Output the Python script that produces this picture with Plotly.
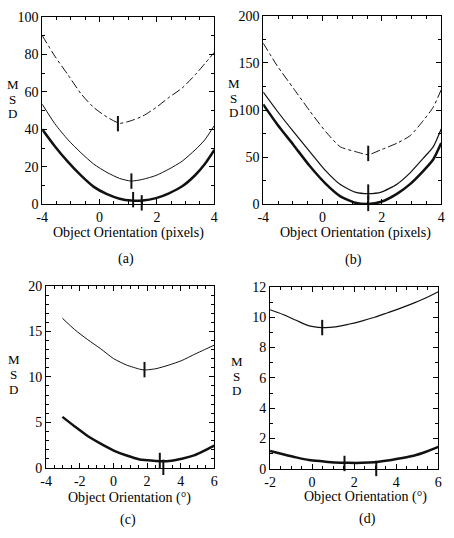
import plotly.graph_objects as go

# ---------------- data ----------------
# Panel (a): x axis labelled -4,0,2,4 at equal spacing (axis units -2..4)
a_x = [-2, -1.56, -1.1, -0.65, -0.2, 0.26, 0.7, 1.1, 1.5, 1.97, 2.42, 2.88, 3.33, 3.67, 4]
a_dashdot = [90, 79, 69, 59, 51.6, 46.5, 43.2, 44.6, 47, 51.6, 57, 62, 69, 75, 81]
a_thin = [53.4, 43, 34.4, 27.5, 21.4, 17, 13.8, 12.4, 13.3, 15.4, 18.8, 23, 29, 34.4, 42]
a_thick = [40, 31, 22.6, 15.4, 9.3, 5.4, 3, 2, 2, 3.3, 5.9, 9.6, 15.5, 21.5, 29]
a_mark_x = [0.64, 1.11, 1.17, 1.47]
a_mark_y = [43, 12.4, 2.5, 0.8]

# Panel (b)
b_x = [-2, -1.53, -0.98, -0.43, 0.11, 0.6, 1.1, 1.54, 1.98, 2.52, 2.96, 3.4, 3.73, 4]
b_dashdot = [171, 147, 123, 99, 77, 61, 56, 52.7, 58, 65, 73, 89, 103, 121.5]
b_thin = [119, 99, 77, 56, 35.5, 21, 13, 11.4, 13, 21.7, 33.7, 49, 61, 80]
b_thick = [106, 85, 63, 40.6, 21.7, 8.5, 1.7, 0.3, 2.8, 11.4, 21.7, 35.5, 47.5, 65]
b_mark_x = [1.54, 1.54, 1.54]
b_mark_y = [54, 13, 1]

# Panel (c)
c_x = [-3.03, -2.3, -1.53, -0.76, 0.02, 0.79, 1.56, 1.85, 2.53, 3.3, 4.07, 4.84, 5.42, 6]
c_thin = [16.45, 15.2, 14.1, 13.1, 12, 11.3, 10.85, 10.76, 10.9, 11.3, 11.8, 12.5, 13, 13.5]
c_thick = [5.6, 4.55, 3.5, 2.66, 1.9, 1.35, 0.92, 0.85, 0.75, 0.75, 1, 1.4, 1.9, 2.45]
c_mark_x = [1.85, 2.76, 2.97]
c_mark_y = [10.8, 0.8, 0.05]

# Panel (d)
d_x = [-2, -1.38, -0.76, -0.14, 0.48, 1.1, 1.73, 2.35, 2.97, 3.59, 4.21, 4.83, 5.45, 6]
d_thin = [10.5, 10.18, 9.8, 9.43, 9.32, 9.36, 9.54, 9.75, 10, 10.3, 10.6, 10.93, 11.3, 11.68]
d_thick = [1.18, 0.96, 0.75, 0.58, 0.49, 0.41, 0.39, 0.39, 0.43, 0.54, 0.69, 0.86, 1.14, 1.44]
d_mark_x = [0.48, 1.54, 3.05]
d_mark_y = [9.32, 0.35, 0.02]

ab_tickvals = [-2, 0, 2, 4]
ab_ticktext = ["-4", "0", "2", "4"]
c_tickvals = [-4, -2, 0, 2, 4, 6]
c_ticktext = ["-4", "-2", "0", "2", "4", "6"]
d_tickvals = [-2, 0, 2, 4, 6]
d_ticktext = ["-2", "0", "2", "4", "6"]
xtitle_pix = "Object Orientation (pixels)"
xtitle_deg = "Object Orientation (°)"

FONT = "Liberation Serif"
W, H = 454, 538
INK = "#111"

fig = go.Figure()

def add_line(x, y, axn, width, dash="solid"):
    fig.add_trace(go.Scatter(x=x, y=y, mode="lines",
                             line=dict(color=INK, width=width, dash=dash, shape="spline", smoothing=0.6),
                             xaxis="x" + axn, yaxis="y" + axn, showlegend=False, hoverinfo="skip"))

def add_marks(x, y, axn):
    fig.add_trace(go.Scatter(x=x, y=y, mode="markers",
                             marker=dict(symbol="line-ns-open", size=11, color=INK,
                                         line=dict(color=INK, width=2)),
                             xaxis="x" + axn, yaxis="y" + axn, showlegend=False, cliponaxis=False,
                             hoverinfo="skip"))

add_line(a_x, a_dashdot, "1", 1, "dashdot")
add_line(a_x, a_thin, "1", 1)
add_line(a_x, a_thick, "1", 2.5)
add_marks(a_mark_x, a_mark_y, "1")

add_line(b_x, b_dashdot, "2", 1, "dashdot")
add_line(b_x, b_thin, "2", 1.2)
add_line(b_x, b_thick, "2", 2.5)
add_marks(b_mark_x, b_mark_y, "2")

add_line(c_x, c_thin, "3", 1)
add_line(c_x, c_thick, "3", 2.5)
add_marks(c_mark_x, c_mark_y, "3")

add_line(d_x, d_thin, "4", 1.2)
add_line(d_x, d_thick, "4", 2.5)
add_marks(d_mark_x, d_mark_y, "4")

def px(v):
    return v / W

def py(v):
    return 1 - v / H

axis_common = dict(showline=True, linecolor="black", linewidth=1, mirror="ticks", ticks="inside",
                   ticklen=5, tickcolor="black", showgrid=False, zeroline=False,
                   tickfont=dict(family=FONT, size=14, color="black"))

def xax(dom, anchor, rng, tickvals, ticktext, minor_dtick=0.5):
    return dict(axis_common, domain=dom, anchor=anchor, range=rng,
                tickmode="array", tickvals=tickvals, ticktext=ticktext,
                minor=dict(ticks="inside", ticklen=3, dtick=minor_dtick, tick0=0, tickcolor="black"))

def yax(dom, anchor, rng, dtick, minor_dtick):
    return dict(axis_common, domain=dom, anchor=anchor, range=rng, dtick=dtick, tick0=0,
                minor=dict(ticks="inside", ticklen=3, dtick=minor_dtick, tick0=0, tickcolor="black"))

fig.update_layout(
    width=W, height=H, margin=dict(l=0, r=0, t=0, b=0),
    paper_bgcolor="white", plot_bgcolor="white",
    font=dict(family=FONT, color="black"),
    xaxis1=xax([px(37), px(213)], "y1", [-2, 4], ab_tickvals, ab_ticktext),
    yaxis1=yax([py(203), py(10)], "x1", [0, 100], 20, 10),
    xaxis2=xax([px(263), px(445)], "y2", [-2, 4], ab_tickvals, ab_ticktext),
    yaxis2=yax([py(203), py(9)], "x2", [0, 200], 50, 25),
    xaxis3=xax([px(41), px(213)], "y3", [-4, 6], c_tickvals, c_ticktext),
    yaxis3=yax([py(474), py(287)], "x3", [0, 20], 5, 1),
    xaxis4=xax([px(270), px(442)], "y4", [-2, 6], d_tickvals, d_ticktext),
    yaxis4=yax([py(475), py(288)], "x4", [0, 12], 2, 1),
)

annotations = []
def ann(text, x, y, size=14):
    annotations.append(dict(text=text, x=px(x), y=py(y), xref="paper", yref="paper",
                            xanchor="center", yanchor="middle", showarrow=False,
                            font=dict(family=FONT, size=size, color="black")))

for (mx, ys) in [(7, (80, 95, 110)), (233, (79, 94, 109)), (8, (363, 378, 393)), (236, (365, 380, 395))]:
    for letter, yy in zip("MSD", ys):
        ann(letter, mx, yy, 13)

ann(xtitle_pix, 125, 232)
ann(xtitle_pix, 357, 232)
ann(xtitle_deg, 126, 505)
ann(xtitle_deg, 368, 504)
ann("(a)", 123, 259)
ann("(b)", 355, 260)
ann("(c)", 125, 528)
ann("(d)", 370, 527)

fig.update_layout(annotations=annotations)
fig.write_html("out.html")
